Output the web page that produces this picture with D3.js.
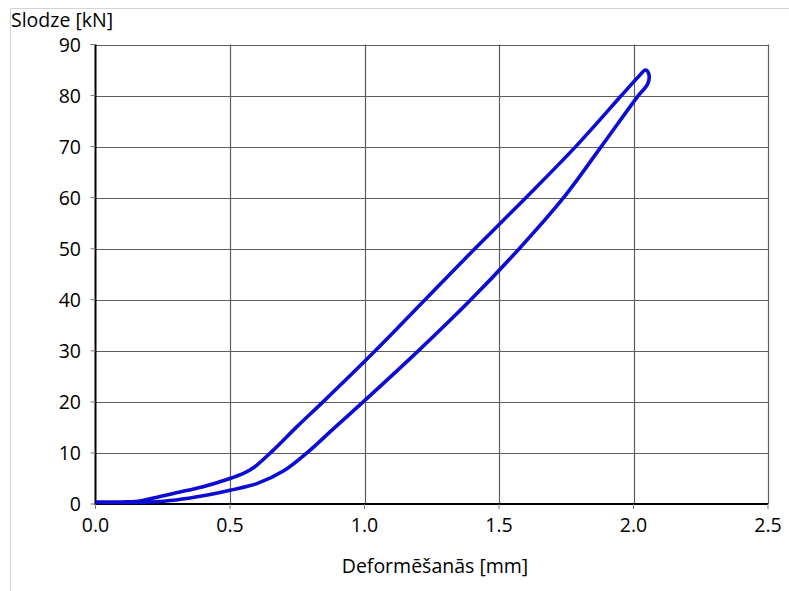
<!DOCTYPE html>
<html>
<head>
<meta charset="utf-8">
<script src="https://cdn.jsdelivr.net/npm/d3@7"></script>
<style>
  body { margin: 0; background: #fff; }
  svg text { font-family: "Open Sans", Lato, sans-serif; fill: #000; }
</style>
</head>
<body>
<svg></svg>
<script>
// data (deformation mm, load kN)
const loading = [[0,0.4],[0.1,0.4],[0.15,0.5],[0.2,1.0],[0.3,2.2],[0.4,3.4],[0.5,5.0],[0.55,6.0],[0.59,7.2],
  [0.66,10.5],[0.75,15.2],[0.846,20],[1.04,30],[1.225,40],[1.41,50],[1.6,60],[1.785,70],[1.955,80],[2.02,83.8],[2.045,85]];
const unloading = [[2.057,84.2],[2.053,82.3],[2.015,79.8],[1.88,70],[1.74,60],[1.575,50],[1.395,40],[1.2,30],
  [0.995,20],[0.89,15],[0.786,10],[0.7,6.5],[0.6,4],[0.5,2.7],[0.4,1.6],[0.3,0.8],[0.2,0.4],[0.1,0.3],[0,0.3]];
const xTicks = [0, 0.5, 1.0, 1.5, 2.0, 2.5];
const yTicks = [0, 10, 20, 30, 40, 50, 60, 70, 80, 90];

const width = 789, height = 591;
const svg = d3.select("svg").attr("width", width).attr("height", height);

const x = d3.scaleLinear().domain([0, 2.5]).range([95.5, 768]);
const y = d3.scaleLinear().domain([0, 90]).range([504, 44.5]);

// outer frame of figure
svg.append("path")
  .attr("d", "M10.5,591V8.5H789")
  .attr("fill", "none").attr("stroke", "#d4d4d4");

// grid
svg.append("g").selectAll("line").data(yTicks.slice(1)).join("line")
  .attr("x1", x(0)).attr("x2", x(2.5))
  .attr("y1", d => Math.round(y(d)) + 0.5).attr("y2", d => Math.round(y(d)) + 0.5)
  .attr("stroke", "#5e5e5e").attr("stroke-width", 1.2);
svg.append("g").selectAll("line").data(xTicks.slice(1)).join("line")
  .attr("y1", y(0)).attr("y2", y(90))
  .attr("x1", d => Math.round(x(d)) + 0.5).attr("x2", d => Math.round(x(d)) + 0.5)
  .attr("stroke", "#5e5e5e").attr("stroke-width", 1.2);

// axes
svg.append("line").attr("x1", x(0)).attr("x2", x(0)).attr("y1", y(90)).attr("y2", y(0) + 1)
  .attr("stroke", "#000").attr("stroke-width", 2);
svg.append("line").attr("x1", x(0) - 1).attr("x2", x(2.5)).attr("y1", y(0)).attr("y2", y(0))
  .attr("stroke", "#000").attr("stroke-width", 2);
// small ticks
svg.append("g").selectAll("line").data(yTicks).join("line")
  .attr("x1", x(0) - 5).attr("x2", x(0)).attr("y1", d => y(d)).attr("y2", d => y(d))
  .attr("stroke", "#7a7a7a");
svg.append("g").selectAll("line").data(xTicks).join("line")
  .attr("y1", y(0)).attr("y2", y(0) + 5).attr("x1", d => x(d)).attr("x2", d => x(d))
  .attr("stroke", "#7a7a7a");

// tick labels
svg.append("g").selectAll("text").data(yTicks).join("text")
  .attr("x", 81).attr("y", d => y(d)).attr("dy", "0.36em")
  .attr("text-anchor", "end").attr("font-size", 19.5)
  .text(d => d);
svg.append("g").selectAll("text").data(xTicks).join("text")
  .attr("x", d => x(d)).attr("y", 532)
  .attr("text-anchor", "middle").attr("font-size", 19.5)
  .text(d => d3.format(".1f")(d));

// axis titles
svg.append("text").attr("x", 11).attr("y", 27).attr("font-size", 19.5).text("Slodze [kN]");
svg.append("text").attr("x", 435).attr("y", 573).attr("text-anchor", "middle")
  .attr("font-size", 19.5).text("Deformēšanās [mm]");

// hysteresis loop
const line = d3.line().x(d => x(d[0])).y(d => y(d[1])).curve(d3.curveCatmullRom.alpha(0.5));
svg.append("path")
  .datum(loading.concat(unloading))
  .attr("d", line)
  .attr("fill", "none")
  .attr("stroke", "#0c0cd2")
  .attr("stroke-width", 3.6)
  .attr("stroke-linejoin", "round");
</script>
</body>
</html>
